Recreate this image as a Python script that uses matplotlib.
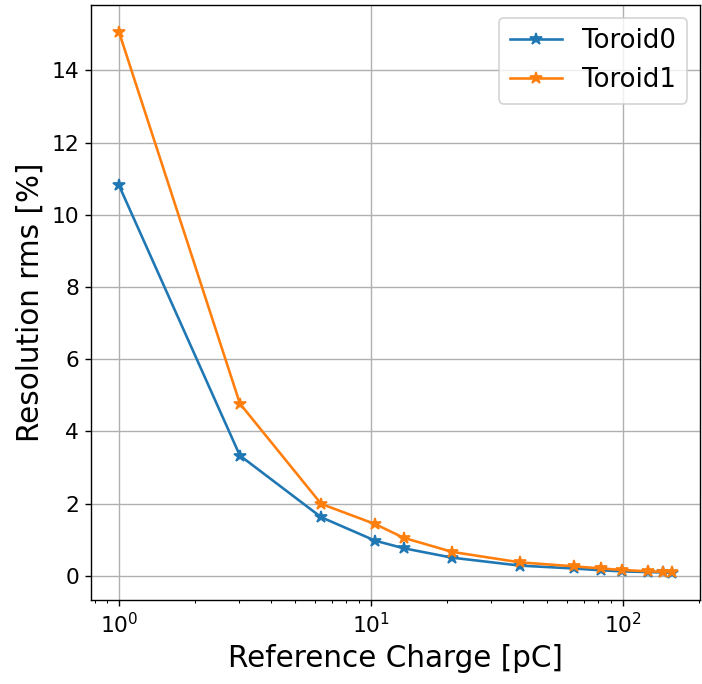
import matplotlib
matplotlib.use('Agg')
import matplotlib.pyplot as plt

charge = [1.0, 3.02, 6.35, 10.4, 13.5, 21.0, 39.0, 64.0, 82.0, 99.0, 126.0, 144.0, 157.0]
toroid0 = [10.82, 3.33, 1.62, 0.97, 0.76, 0.50, 0.28, 0.20, 0.15, 0.12, 0.10, 0.09, 0.08]
toroid1 = [15.07, 4.77, 1.99, 1.43, 1.05, 0.66, 0.37, 0.26, 0.20, 0.16, 0.12, 0.11, 0.10]
labels = ['Toroid0', 'Toroid1']

fig = plt.figure(figsize=(5.616, 5.472), dpi=125)
ax = fig.add_axes([0.13, 0.123, 0.867, 0.870])
ax.plot(charge, toroid0, marker='*', markersize=7)
ax.plot(charge, toroid1, marker='*', markersize=7)
ax.set_xscale('log')
ax.grid(True)
ax.set_xlabel('Reference Charge [pC]', fontsize=17)
ax.set_ylabel('Resolution rms [%]', fontsize=17)
ax.tick_params(labelsize=12.5)
ax.legend(labels, loc='upper right', fontsize=15)

plt.savefig('out.png')
plt.close()
